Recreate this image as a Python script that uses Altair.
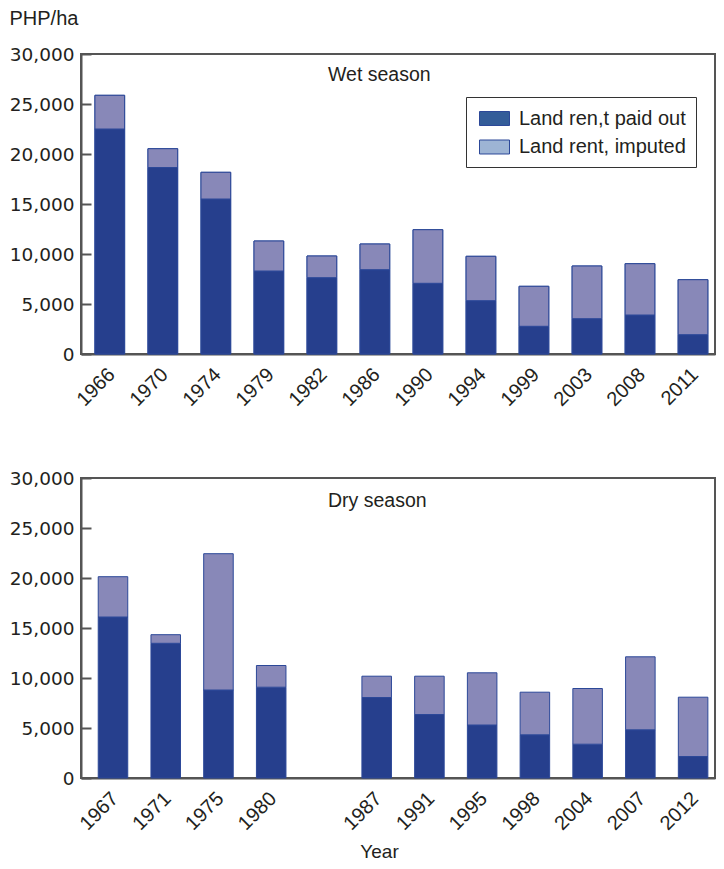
import altair as alt
import pandas as pd

# ---------------- data ----------------
series = ["Land ren,t paid out", "Land rent, imputed"]

wet_years = ["1966", "1970", "1974", "1979", "1982", "1986",
             "1990", "1994", "1999", "2003", "2008", "2011"]
wet_paid = [22500, 18650, 15500, 8300, 7630, 8430, 7070, 5330, 2770, 3530, 3900, 1930]
wet_imputed = [3370, 1880, 2670, 3000, 2170, 2570, 5360, 4440, 4000, 5270, 5130, 5500]

dry_years = ["1967", "1971", "1975", "1980", "1987", "1991",
             "1995", "1998", "2004", "2007", "2012"]
dry_paid = [16100, 13470, 8800, 9080, 8050, 6350, 5300, 4320, 3380, 4820, 2150]
dry_imputed = [4030, 860, 13630, 2170, 2130, 3830, 5220, 4260, 5570, 7300, 5930]

# x-domain of the dry season panel keeps an empty slot between 1980 and 1987
dry_domain = ["1967", "1971", "1975", "1980", " ", "1987", "1991",
              "1995", "1998", "2004", "2007", "2012"]

y_ticks = [0, 5000, 10000, 15000, 20000, 25000, 30000]

bar_colors = ["#263f8d", "#8888b8"]
legend_colors = ["#345d99", "#9db4d4"]
bar_stroke = "#2c4898"
txt = "#231f20"
FONT = "Liberation Sans"
NUMFONT = "DejaVu Sans"
FS = 20


def long_table(years, paid, imputed):
    rows = []
    for yr, p, i in zip(years, paid, imputed):
        rows.append({"year": yr, "series": series[0], "value": p, "order": 0})
        rows.append({"year": yr, "series": series[1], "value": i, "order": 1})
    return pd.DataFrame(rows)


wet_df = long_table(wet_years, wet_paid, wet_imputed)
dry_df = long_table(dry_years, dry_paid, dry_imputed)

W, H = 634, 300


def panel(df, domain, label, top, pad_outer, align, label_y):
    x_kw = dict(labelAngle=-45, ticks=False, labelPadding=10, labelOffset=-5,
                labelFont=FONT, labelFontSize=FS, labelColor=txt)
    if top:
        x_axis = alt.Axis(title=None, **x_kw)
    else:
        x_axis = alt.Axis(
            title="Year", titleX=298, titleY=79, titleAlign="center",
            titleBaseline="alphabetic", titleFont=FONT, titleFontSize=19,
            titleFontWeight="normal", titleColor=txt, **x_kw)
    y_kw = dict(values=y_ticks, format=",.0f", ticks=False, grid=True,
                gridDash=[10, 2000], gridColor="#555", gridWidth=2,
                labelPadding=7, labelFont=NUMFONT, labelFontSize=18.5, labelColor=txt)
    if top:
        y_axis = alt.Axis(
            title="PHP/ha", titleAngle=0, titleX=-72, titleY=-46,
            titleAlign="left", titleBaseline="top", titleFont=FONT,
            titleFontSize=FS, titleFontWeight="normal", titleColor=txt, **y_kw)
    else:
        y_axis = alt.Axis(title=None, **y_kw)

    x_enc = alt.X("year:N", scale=alt.Scale(domain=domain, paddingInner=0.44,
                                            paddingOuter=pad_outer, align=align),
                  axis=x_axis, sort=domain)
    y_enc = alt.Y("value:Q", stack="zero",
                  scale=alt.Scale(domain=[0, 30000], nice=False), axis=y_axis)

    bars = alt.Chart(df).mark_bar(stroke=bar_stroke, strokeWidth=1).encode(
        x=x_enc, y=y_enc,
        fill=alt.Fill("series:N", scale=alt.Scale(domain=series, range=bar_colors),
                      legend=None),
        order=alt.Order("order:Q"),
    )

    title_text = alt.Chart(pd.DataFrame({"t": [label]})).mark_text(
        align="left", baseline="alphabetic", font=FONT, fontSize=19.5, color=txt
    ).encode(x=alt.value(247), y=alt.value(label_y), text="t:N")

    layers = []
    if top:
        # identical bars underneath, only to carry the legend (fully covered)
        legend_bars = alt.Chart(df).mark_bar(stroke=bar_stroke, strokeWidth=1).encode(
            x=x_enc, y=y_enc,
            color=alt.Color(
                "series:N",
                scale=alt.Scale(domain=series, range=legend_colors),
                legend=alt.Legend(
                    title=None, orient="none", legendX=385, legendY=43,
                    direction="vertical",
                    strokeColor="#333", fillColor="white", padding=10,
                    symbolType="M-0.727,-0.636H2V0.636H-0.727Z", symbolSize=484,
                    symbolStrokeColor=bar_stroke, symbolStrokeWidth=1,
                    symbolOpacity=1,
                    labelFont=FONT, labelFontSize=FS, labelColor=txt,
                    labelOffset=20, rowPadding=6.5, labelLimit=400,
                ),
            ),
            order=alt.Order("order:Q"),
        )
        layers.append(legend_bars)
    layers += [bars, title_text]
    return alt.layer(*layers).properties(width=W, height=H)


top_chart = panel(wet_df, wet_years, "Wet season", True, 0.199, 0.661, 27)
bot_chart = panel(dry_df, dry_domain, "Dry season", False, 0.231, 0.707, 28.5)

chart = alt.vconcat(top_chart, bot_chart, spacing=57).properties(
    padding={"left": 0, "top": -1, "right": 0, "bottom": -2},
    background="white",
).configure_view(
    stroke="#555", strokeWidth=2
).configure_axis(
    domainColor="#555", domainWidth=2,
)

chart.save("out.html", embed_options={"renderer": "svg", "actions": False})
